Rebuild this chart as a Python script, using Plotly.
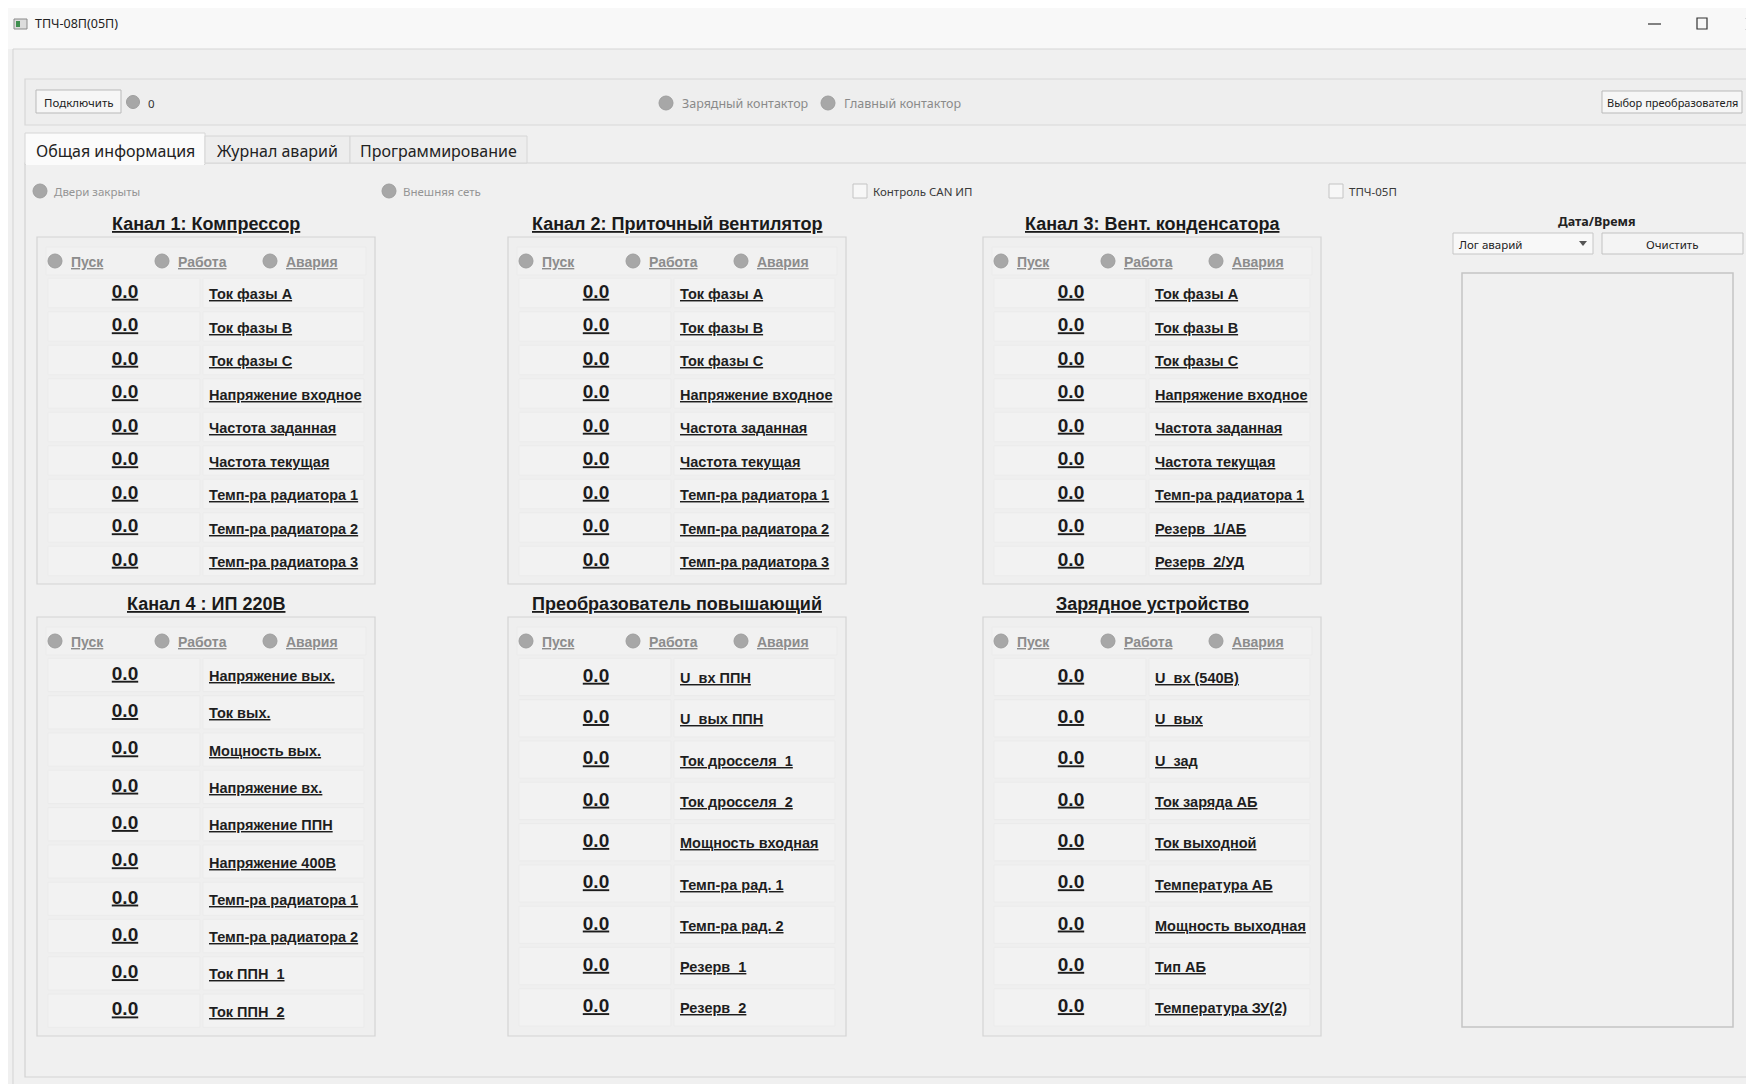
import plotly.graph_objects as go

# ---------------- data (texts and values) ----------------
window_title = "ТПЧ-08П(05П)"
connect_label = "Подключить"
connect_count = "0"
contactor_labels = ["Зарядный контактор", "Главный контактор"]
select_label = "Выбор преобразователя"
tab_labels = ["Общая информация", "Журнал аварий", "Программирование"]
indicator_labels = ["Двери закрыты", "Внешняя сеть"]
checkbox_labels = ["Контроль CAN ИП", "ТПЧ-05П"]
status_labels = ["Пуск", "Работа", "Авария"]
panel_titles = [
    "Канал 1: Компрессор",
    "Канал 2: Приточный вентилятор",
    "Канал 3: Вент. конденсатора",
    "Канал 4 : ИП 220В",
    "Преобразователь повышающий",
    "Зарядное устройство",
]
ch1_labels = ["Ток фазы А", "Ток фазы В", "Ток фазы С", "Напряжение входное",
              "Частота заданная", "Частота текущая", "Темп-ра радиатора 1",
              "Темп-ра радиатора 2", "Темп-ра радиатора 3"]
ch1_values = [0.0, 0.0, 0.0, 0.0, 0.0, 0.0, 0.0, 0.0, 0.0]
ch2_labels = ["Ток фазы А", "Ток фазы В", "Ток фазы С", "Напряжение входное",
              "Частота заданная", "Частота текущая", "Темп-ра радиатора 1",
              "Темп-ра радиатора 2", "Темп-ра радиатора 3"]
ch2_values = [0.0, 0.0, 0.0, 0.0, 0.0, 0.0, 0.0, 0.0, 0.0]
ch3_labels = ["Ток фазы А", "Ток фазы В", "Ток фазы С", "Напряжение входное",
              "Частота заданная", "Частота текущая", "Темп-ра радиатора 1",
              "Резерв\u00a0 1/АБ", "Резерв\u00a0 2/УД"]
ch3_values = [0.0, 0.0, 0.0, 0.0, 0.0, 0.0, 0.0, 0.0, 0.0]
ch4_labels = ["Напряжение вых.", "Ток вых.", "Мощность вых.", "Напряжение вх.",
              "Напряжение ППН", "Напряжение 400В", "Темп-ра радиатора 1",
              "Темп-ра радиатора 2", "Ток ППН\u00a0 1", "Ток ППН\u00a0 2"]
ch4_values = [0.0, 0.0, 0.0, 0.0, 0.0, 0.0, 0.0, 0.0, 0.0, 0.0]
ppn_labels = ["U\u00a0 вх ППН", "U\u00a0 вых ППН", "Ток дросселя\u00a0 1",
              "Ток дросселя\u00a0 2", "Мощность входная", "Темп-ра рад. 1",
              "Темп-ра рад. 2", "Резерв\u00a0 1", "Резерв\u00a0 2"]
ppn_values = [0.0, 0.0, 0.0, 0.0, 0.0, 0.0, 0.0, 0.0, 0.0]
zu_labels = ["U\u00a0 вх (540В)", "U\u00a0 вых", "U\u00a0 зад", "Ток заряда АБ",
             "Ток выходной", "Температура АБ", "Мощность выходная", "Тип АБ",
             "Температура ЗУ(2)"]
zu_values = [0.0, 0.0, 0.0, 0.0, 0.0, 0.0, 0.0, 0.0, 0.0]
log_title = "Дата/Время"
log_combo = "Лог аварий"
log_clear = "Очистить"

# ---------------- layout / style ----------------
W, H = 1754, 1084
PAGE_MARGIN = 8          # default body margin of the html page
UI = "Noto Sans"
DF = "Liberation Sans"
BG = "#f0f0f0"
LED = "#a7a7a7"

fig = go.Figure()
shapes = []
ann = []


def rect(x0, y0, x1, y1, fill, line="rgba(0,0,0,0)", lw=1):
    shapes.append(dict(type="rect", xref="x", yref="y", x0=x0, y0=y0, x1=x1, y1=y1,
                       fillcolor=fill, line=dict(color=line, width=lw), layer="below"))


def hline(x0, x1, y, color, lw=1):
    shapes.append(dict(type="line", xref="x", yref="y", x0=x0, x1=x1, y0=y, y1=y,
                       line=dict(color=color, width=lw), layer="below"))


def vline(x, y0, y1, color, lw=1):
    shapes.append(dict(type="line", xref="x", yref="y", x0=x, x1=x, y0=y0, y1=y1,
                       line=dict(color=color, width=lw), layer="below"))


def led(cx, cy, r=7):
    shapes.append(dict(type="circle", xref="x", yref="y", x0=cx - r, x1=cx + r,
                       y0=cy - r, y1=cy + r, fillcolor=LED,
                       line=dict(color="#9e9e9e", width=1), layer="above"))


def text(x, y, s, size, color="#222222", family=UI, anchor="left", bold=False, under=False):
    t = s
    if under:
        t = "<u>" + t + "</u>"
    if bold:
        t = "<b>" + t + "</b>"
    ann.append(dict(x=x, y=y, xref="x", yref="y", text=t, showarrow=False,
                    xanchor=anchor, yanchor="middle",
                    font=dict(family=family, size=size, color=color)))


# title bar
rect(0, 0, W + 10, 49, "#f8f8f8")
hline(13, W + 10, 49, "#d6d6d6")
vline(13, 49, H + 10, "#d3d3d3")
rect(14, 19, 27, 29, "#dcdcdc", "#8a8a8a", 1)
rect(16, 21, 20, 27, "#3f8f4f")
text(33, 23, window_title, 12.5, "#222222")
hline(1648, 1661, 24, "#333333", 1.2)
rect(1697, 18, 1707, 29, "rgba(0,0,0,0)", "#333333", 1.2)
shapes.append(dict(type="line", xref="x", yref="y", x0=1746, x1=1758, y0=18, y1=30,
                   line=dict(color="#333333", width=1.2)))
shapes.append(dict(type="line", xref="x", yref="y", x0=1746, x1=1758, y0=30, y1=18,
                   line=dict(color="#333333", width=1.2)))

# top group box
rect(25, 79, 1752, 125, "#eeeeee", "#d8d8d8", 1.2)
rect(36, 90, 121, 113, "#f6f6f6", "#b9b9b9", 1)
text(78.5, 102, connect_label, 11.5, "#222222", anchor="center")
led(133, 102, 6.5)
text(146, 103, connect_count, 11.5, "#333333")
for cx, lbl in zip([666, 828], contactor_labels):
    led(cx, 103, 7)
    text(cx + 14, 103, lbl, 12.5, "#8a8a8a")
rect(1602, 91, 1742, 113, "#f6f6f6", "#b9b9b9", 1)
text(1672, 102, select_label, 11, "#222222", anchor="center")

# tab pane
rect(25, 163, W + 10, 1077, BG, "#d3d3d3", 1.2)
tab_x = [25, 205, 350, 527]
for i, lbl in enumerate(tab_labels):
    x0, x1 = tab_x[i], tab_x[i + 1]
    if i == 0:
        rect(x0, 133, x1, 164.5, "#fbfbfb", "#d6d6d6", 1)
        hline(x0 + 1, x1 - 1, 164, "#fbfbfb", 2)
    else:
        rect(x0, 136, x1, 163, "#ededed", "#d6d6d6", 1)
    text((x0 + x1) / 2, 151, lbl, 16, "#222222", anchor="center")

# indicators / checkboxes
for cx, lbl in zip([40, 389], indicator_labels):
    led(cx, 191, 7)
    text(cx + 12, 191, lbl, 11.5, "#949494")
for bx, lbl in zip([853, 1329], checkbox_labels):
    rect(bx, 184, bx + 14, 198, "#f7f7f7", "#c4c4c4", 1)
    text(bx + 18, 191, lbl, 11.5, "#3a3a3a")

# panels
panels = [
    (37, 237, 584, 56, 33.5, panel_titles[0], ch1_labels, ch1_values),
    (508, 237, 584, 56, 33.5, panel_titles[1], ch2_labels, ch2_values),
    (983, 237, 584, 56, 33.5, panel_titles[2], ch3_labels, ch3_values),
    (37, 617, 1036, 58, 37.3, panel_titles[3], ch4_labels, ch4_values),
    (508, 617, 1036, 60, 41.3, panel_titles[4], ppn_labels, ppn_values),
    (983, 617, 1036, 60, 41.3, panel_titles[5], zu_labels, zu_values),
]
for (L, T, B, off, step, title, labels, values) in panels:
    rect(L, T, L + 338, B, "#efefef", "#d4d4d4", 1.2)
    text(L + 169, T - 13, title, 18, "#1a1a1a", DF, "center", True, True)
    rect(L + 9, T + 10, L + 329, T + 38, "#f1f1f1", "#ebebeb", 1)
    for k, lbl in enumerate(status_labels):
        cx = L + [18, 125, 233][k]
        led(cx, T + 24, 7)
        text(cx + 14, T + 25, lbl, 14, "#8c8c8c", DF, "left", True, True)
    ys = [T + off + i * step for i in range(len(labels))]
    for y, lbl in zip(ys, labels):
        rect(L + 11, y - step / 2 + 2, L + 163, y + step / 2 - 2, "#f2f2f2", "#ebebeb", 1)
        rect(L + 166, y - step / 2 + 2, L + 327, y + step / 2 - 2, "#f2f2f2", "#ebebeb", 1)
        text(L + 170, y + 1, lbl, 14.5, "#1e1e1e", DF, "left", True, True)
    fig.add_trace(go.Scatter(
        x=[L + 88] * len(values), y=ys, mode="text",
        text=["<b><u>%.1f</u></b>" % v for v in values],
        textposition="middle center",
        textfont=dict(family=DF, size=19, color="#1c1c1c"),
        hoverinfo="skip", showlegend=False))

# right side log
text(1597, 221, log_title, 12.5, "#222222", UI, "center", True)
rect(1453, 233, 1593, 254, "#f8f8f8", "#c6c6c6", 1)
text(1457, 244, log_combo, 11.5, "#222222")
shapes.append(dict(type="path", xref="x", yref="y",
                   path="M 1579 241 L 1587 241 L 1583 246 Z",
                   fillcolor="#555555", line=dict(width=0)))
rect(1602, 233, 1743, 254, "#f4f4f4", "#c2c2c2", 1)
text(1672, 244, log_clear, 11.5, "#222222", anchor="center")
rect(1462, 273, 1733, 1027, BG, "#c4c4c4", 1.5)

fig.update_layout(
    width=W - PAGE_MARGIN, height=H - PAGE_MARGIN,
    margin=dict(l=0, r=0, t=0, b=0),
    paper_bgcolor=BG, plot_bgcolor=BG,
    xaxis=dict(range=[PAGE_MARGIN, W], visible=False, fixedrange=True),
    yaxis=dict(range=[H, PAGE_MARGIN], visible=False, fixedrange=True),
    shapes=shapes, annotations=ann, showlegend=False,
)
fig.write_html("out.html", config={"displayModeBar": False})
